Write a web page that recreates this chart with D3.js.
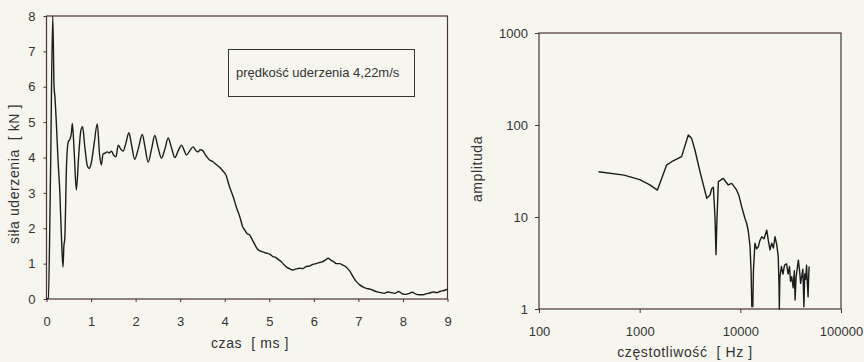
<!DOCTYPE html>
<html>
<head>
<meta charset="utf-8">
<script src="https://cdn.jsdelivr.net/npm/d3@7"></script>
<style>
  body { margin: 0; background: #f6f6ef; }
  svg { display: block; }
  text { font-family: "Liberation Sans", Arial, sans-serif; fill: #333; white-space: pre; }
</style>
</head>
<body>
<div id="chart"></div>
<script>
// przebieg sily uderzenia w czasie
const czasMs = [
  0, 0.04, 0.09, 0.14, 0.17, 0.19, 0.22, 0.26, 0.30, 0.34,
  0.37, 0.39, 0.41, 0.45, 0.49, 0.52, 0.56, 0.58, 0.62, 0.67,
  0.72, 0.77, 0.81, 0.86, 0.92, 0.96, 1.01, 1.07, 1.14, 1.19,
  1.23, 1.27, 1.31, 1.36, 1.41, 1.46, 1.51, 1.56, 1.61, 1.66,
  1.72, 1.78, 1.85, 1.91, 1.98, 2.06, 2.15, 2.21, 2.28, 2.36,
  2.43, 2.50, 2.58, 2.66, 2.73, 2.80, 2.88, 2.96, 3.03, 3.09,
  3.14, 3.21, 3.29, 3.35, 3.40, 3.45, 3.50, 3.58, 3.66, 3.74,
  3.81, 3.89, 3.96, 4.03, 4.10, 4.19, 4.26, 4.34, 4.40, 4.45,
  4.50, 4.55, 4.60, 4.67, 4.73, 4.79, 4.86, 4.93, 5.01, 5.08,
  5.14, 5.20, 5.27, 5.33, 5.39, 5.46, 5.53, 5.60, 5.68, 5.75,
  5.83, 5.90, 5.98, 6.05, 6.12, 6.19, 6.26, 6.32, 6.38, 6.45,
  6.51, 6.58, 6.65, 6.73, 6.80, 6.88, 6.95, 7.03, 7.10, 7.18,
  7.26, 7.34, 7.42, 7.50, 7.58, 7.66, 7.74, 7.82, 7.90, 7.97,
  8.04, 8.12, 8.21, 8.29, 8.37, 8.45, 8.53, 8.60, 8.68, 8.76,
  8.84, 8.92, 9.0
];
const silaKN = [
  0, 0.02, 3.5, 8.0, 6.0, 5.7, 5.0, 3.9, 3.0, 1.6,
  0.9, 1.5, 1.7, 3.8, 4.45, 4.5, 4.7, 4.96, 4.2, 3.08,
  4.0, 4.75, 4.87, 4.3, 3.75, 3.69, 3.88, 4.4, 4.95, 4.1,
  3.79, 4.1, 4.12, 4.16, 4.13, 4.18, 4.06, 4.02, 4.35, 4.25,
  4.18, 4.4, 4.7, 4.35, 3.95, 4.25, 4.65, 4.3, 3.87, 4.25,
  4.62, 4.3, 3.98, 4.25, 4.55, 4.3, 4.0, 4.2, 4.35, 4.2,
  4.07, 4.18, 4.3, 4.2, 4.16, 4.22, 4.2, 4.05, 3.93, 3.88,
  3.8, 3.72, 3.62, 3.5, 3.2, 2.89, 2.6, 2.32, 2.05, 1.95,
  1.85, 1.82, 1.72, 1.55, 1.42, 1.36, 1.33, 1.3, 1.27, 1.2,
  1.18, 1.12, 1.05, 0.97, 0.9, 0.85, 0.82, 0.85, 0.87, 0.86,
  0.92, 0.93, 0.98, 1.0, 1.03, 1.05, 1.1, 1.15, 1.1, 1.05,
  1.0, 1.0, 0.96, 0.9, 0.8, 0.63, 0.5, 0.4, 0.34, 0.3,
  0.28, 0.24, 0.2, 0.18, 0.16, 0.2, 0.18, 0.16, 0.21, 0.16,
  0.13, 0.15, 0.19, 0.14, 0.12, 0.12, 0.15, 0.17, 0.2, 0.18,
  0.22, 0.24, 0.28
];
const czasTicks = [0, 1, 2, 3, 4, 5, 6, 7, 8, 9];
const silaTicks = [0, 1, 2, 3, 4, 5, 6, 7, 8];

// widmo amplitudowe
const czestHz = [
  390, 700, 1000, 1250, 1500, 1850, 2080, 2610, 3040, 3280,
  3540, 3980, 4640, 5000, 5200, 5400, 5600, 5730, 5850, 6050,
  6770, 7200, 7590, 8210, 9180, 9700, 10300, 11100, 11570, 12000,
  12490, 12800, 13000, 13300, 13500, 13970, 14500, 15100, 15600, 16300,
  17200, 18300, 19000, 19700, 20500, 21300, 22100, 23000, 23800, 24200,
  24400, 24700, 25600, 26500, 27500, 28800, 29800, 30800, 31500, 32400,
  33500, 34400, 35000, 35800, 36800, 37700, 38800, 39700, 40700, 41800,
  42800, 43600, 44500, 45500, 46300, 47100, 47700, 48200
];
const amplituda = [
  31, 28.5, 25.5, 22.5, 19.6, 36.6, 39.9, 45.3, 78, 71.6,
  53.5, 31, 16, 17.3, 20.4, 21, 10, 3.9, 9, 24.2,
  26.3, 24, 22.3, 23.2, 19.7, 17, 13, 9.7, 8.5, 7,
  4.75, 2.5, 1.06, 1.06, 2.65, 5.18, 4.5, 4.75, 5.5, 6.1,
  5.8, 7.2, 5.5, 4.4, 5.2, 4.6, 6.1, 5.0, 3.7, 1.9,
  1.0, 2.2, 2.9, 2.4, 3.0, 3.1, 2.4, 2.9, 2.0, 2.25,
  1.7, 2.6, 1.25, 2.2, 2.8, 3.4, 2.6, 1.9, 2.25, 2.7,
  1.06, 2.4, 2.1, 3.0, 1.9, 1.36, 2.2, 2.9
];
const czestTicks = [100, 1000, 10000, 100000];
const ampTicks = [1, 10, 100, 1000];

const W = 864, H = 362;
const frameColor = '#4a3333';
const lineColor = '#1c1c1c';

const svg = d3.select('#chart').append('svg')
  .attr('width', W).attr('height', H);

svg.append('rect').attr('width', W).attr('height', H).attr('fill', '#f6f6ef');

function styleAxis(g) {
  g.select('.domain').remove();
  g.selectAll('.tick line').attr('stroke', frameColor).attr('stroke-width', 1);
  g.selectAll('.tick text').style('font-size', '13px')
    .style('font-family', '"Liberation Sans", Arial, sans-serif').attr('fill', '#333');
}

// ---- lewy wykres ----
const x1 = d3.scaleLinear().domain([0, 9]).range([46.5, 447.5]);
const y1 = d3.scaleLinear().domain([0, 8]).range([299, 16]);

svg.append('g').attr('transform', 'translate(0,299)')
  .call(d3.axisBottom(x1).tickValues(czasTicks).tickSize(3).tickPadding(15))
  .call(styleAxis);
svg.append('g').attr('transform', 'translate(46.5,0)')
  .call(d3.axisLeft(y1).tickValues(silaTicks).tickSize(3).tickPadding(8))
  .call(styleAxis);

svg.append('rect')
  .attr('x', x1(0)).attr('y', y1(8))
  .attr('width', x1(9) - x1(0)).attr('height', y1(0) - y1(8))
  .attr('fill', 'none').attr('stroke', frameColor).attr('stroke-width', 1.2);

const line1 = d3.line()
  .x((d, i) => x1(czasMs[i]))
  .y(d => y1(d))
  .curve(d3.curveMonotoneX);

svg.append('path').datum(silaKN)
  .attr('d', line1)
  .attr('fill', 'none').attr('stroke', lineColor)
  .attr('stroke-width', 1.4).attr('stroke-linejoin', 'round');

// ramka z predkoscia
svg.append('rect')
  .attr('x', 228.5).attr('y', 49.5).attr('width', 186).attr('height', 47)
  .attr('fill', 'none').attr('stroke', '#333').attr('stroke-width', 1);
svg.append('text').attr('x', 236).attr('y', 77)
  .style('font-size', '13px').text('prędkość uderzenia 4,22m/s');

svg.append('text').attr('x', 250).attr('y', 348).attr('text-anchor', 'middle')
  .style('font-size', '14px').style('letter-spacing', '0.6px').text('czas  [ ms ]');
svg.append('text')
  .attr('transform', 'translate(19,174) rotate(-90)')
  .attr('text-anchor', 'middle').style('font-size', '14px').style('letter-spacing', '0.6px')
  .text('siła uderzenia  [ kN ]');

// ---- prawy wykres ----
const x2 = d3.scaleLog().domain([100, 100000]).range([539, 841]);
const y2 = d3.scaleLog().domain([1, 1000]).range([309, 33]);

svg.append('g').attr('transform', 'translate(0,309)')
  .call(d3.axisBottom(x2).tickValues(czestTicks).tickFormat(d3.format('d')).tickSize(4).tickPadding(14))
  .call(styleAxis);
svg.append('g').attr('transform', 'translate(539,0)')
  .call(d3.axisLeft(y2).tickValues(ampTicks).tickFormat(d3.format('d')).tickSize(4).tickPadding(7))
  .call(styleAxis);

svg.append('rect')
  .attr('x', x2(100)).attr('y', y2(1000))
  .attr('width', x2(100000) - x2(100)).attr('height', y2(1) - y2(1000))
  .attr('fill', 'none').attr('stroke', frameColor).attr('stroke-width', 1.2);

const line2 = d3.line()
  .x((d, i) => x2(czestHz[i]))
  .y(d => y2(d));

svg.append('path').datum(amplituda)
  .attr('d', line2)
  .attr('fill', 'none').attr('stroke', lineColor)
  .attr('stroke-width', 1.4).attr('stroke-linejoin', 'round');

svg.append('text').attr('x', 685).attr('y', 357).attr('text-anchor', 'middle')
  .style('font-size', '14px').style('letter-spacing', '0.6px').text('częstotliwość  [ Hz ]');
svg.append('text')
  .attr('transform', 'translate(482,169) rotate(-90)')
  .attr('text-anchor', 'middle').style('font-size', '14px').style('letter-spacing', '0.6px')
  .text('amplituda');
</script>
</body>
</html>
